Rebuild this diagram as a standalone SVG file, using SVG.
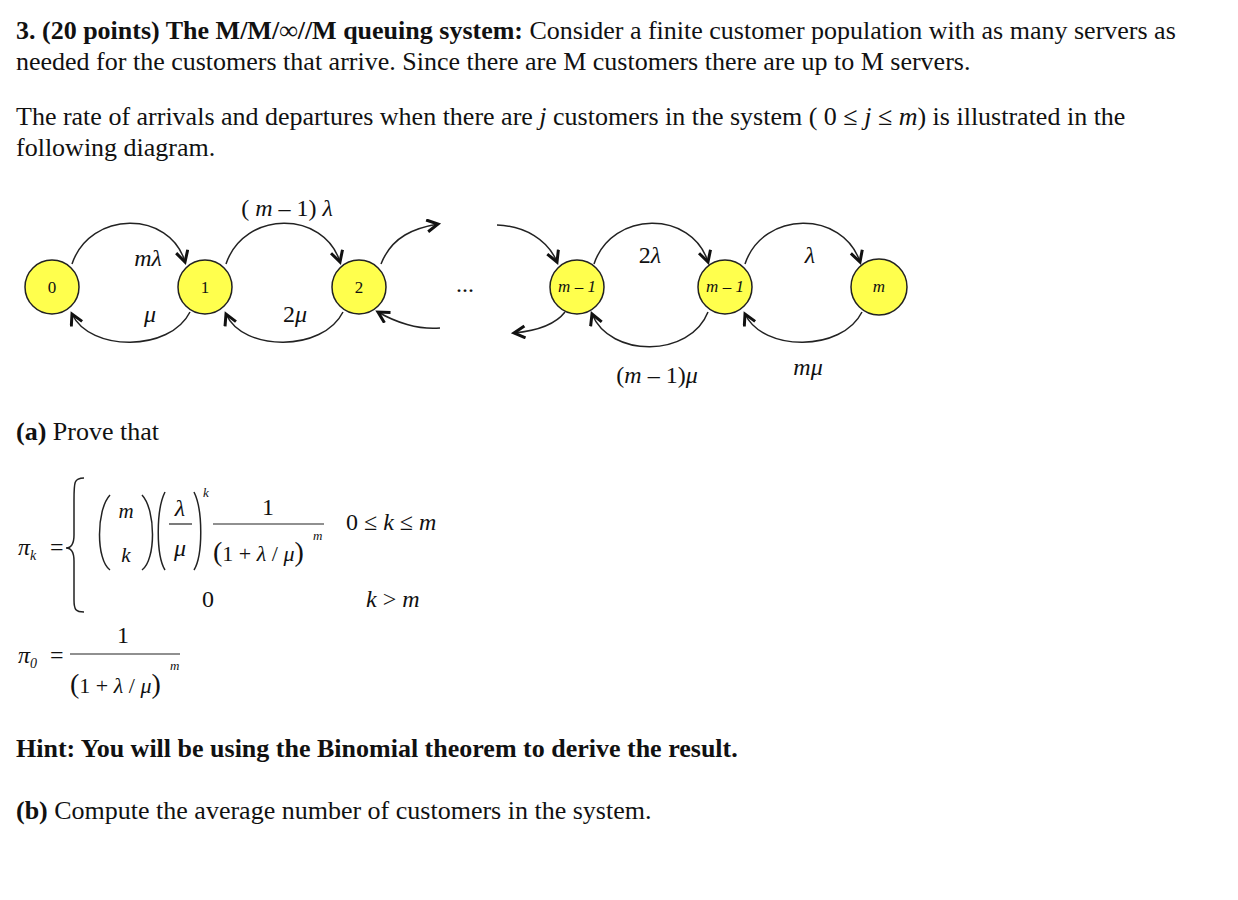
<svg xmlns="http://www.w3.org/2000/svg" width="1238" height="900" viewBox="0 0 1238 900">
<style>
.t{font-family:"Liberation Serif",serif;font-size:26px;fill:#111}
.b{font-weight:bold}
.i{font-style:italic}
.m{font-family:"Liberation Serif",serif;font-size:24px;fill:#111}
.n{fill:#ffff4d;stroke:#222;stroke-width:1.5}
.c{fill:none;stroke:#222;stroke-width:1.5}
.nl{font-family:"Liberation Serif",serif;font-size:17px;text-anchor:middle;fill:#111}
</style>
<defs>
<marker id="a" markerWidth="16" markerHeight="16" refX="12" refY="7" orient="auto" markerUnits="userSpaceOnUse">
<path d="M1,1 L12,7 L1,13" fill="none" stroke="#111" stroke-width="3"/>
</marker>
</defs>
<rect width="1238" height="900" fill="#fff"/>
<text class="t" x="16" y="39"><tspan class="b">3. (20 points) The M/M/∞//M queuing system:</tspan> Consider a finite customer population with as many servers as</text>
<text class="t" x="16" y="70">needed for the customers that arrive. Since there are M customers there are up to M servers.</text>
<text class="t" x="16" y="125">The rate of arrivals and departures when there are <tspan class="i">j</tspan> customers in the system ( 0  ≤ <tspan class="i">j</tspan> ≤  <tspan class="i">m</tspan>) is illustrated in the</text>
<text class="t" x="16" y="156">following diagram.</text>
<g id="connectors">
<path class="c" d="M72,264 C90,210 170,210 185,262" marker-end="url(#a)"/>
<path class="c" d="M190,312 C170,352 90,352 72,314" marker-end="url(#a)"/>
<path class="c" d="M226,264 C244,210 324,210 340,262" marker-end="url(#a)"/>
<path class="c" d="M343,312 C323,352 243,352 226,314" marker-end="url(#a)"/>
<path class="c" d="M381,264 C392,236 415,228 438,224" marker-end="url(#a)"/>
<path class="c" d="M440,328 C418,330 395,322 378,312" marker-end="url(#a)"/>
<path class="c" d="M497,225 C525,226 548,240 557,262" marker-end="url(#a)"/>
<path class="c" d="M565,312 C555,325 535,331 514,333" marker-end="url(#a)"/>
<path class="c" d="M594,264 C612,210 692,210 708,262" marker-end="url(#a)"/>
<path class="c" d="M708,312 C690,358 610,358 592,314" marker-end="url(#a)"/>
<path class="c" d="M745,264 C763,210 843,210 860,262" marker-end="url(#a)"/>
<path class="c" d="M862,312 C842,352 763,352 745,314" marker-end="url(#a)"/>
</g>
<g id="n0"><circle class="n" cx="52" cy="287" r="27"/><text class="nl" x="52" y="293">0</text></g>
<g id="n1"><circle class="n" cx="205" cy="287" r="27"/><text class="nl" x="205" y="293">1</text></g>
<g id="n2"><circle class="n" cx="359" cy="287" r="27"/><text class="nl" x="359" y="293">2</text></g>
<g id="nm1a"><circle class="n" cx="577" cy="287" r="27"/><text class="nl i" x="577" y="292" font-size="14">m – 1</text></g>
<g id="nm1b"><circle class="n" cx="725" cy="287" r="27"/><text class="nl i" x="725" y="292" font-size="14">m – 1</text></g>
<g id="nm"><circle class="n" cx="879" cy="287" r="28"/><text class="nl i" x="879" y="292" font-size="14">m</text></g>
<g class="m" text-anchor="middle" font-size="27">
<text x="287" y="216">( <tspan class="i">m</tspan> – 1) <tspan class="i">λ</tspan></text>
<text x="148" y="266" class="i">mλ</text>
<text x="150" y="322" class="i">μ</text>
<text x="295" y="322">2<tspan class="i">μ</tspan></text>
<text x="465" y="292">...</text>
<text x="650" y="263">2<tspan class="i">λ</tspan></text>
<text x="810" y="263" class="i">λ</text>
<text x="657" y="383">(<tspan class="i">m</tspan> – 1)<tspan class="i">μ</tspan></text>
<text x="808" y="375" class="i">mμ</text>
</g>
<text class="t" x="16" y="440"><tspan class="b">(a)</tspan> Prove that</text>
<g class="m">
<text x="18" y="555" class="i">π<tspan font-size="14" dy="5">k</tspan></text>
<text x="50" y="555">=</text>
<path class="c" d="M84,478 C74,478 74,482 74,500 L74,535 C74,545 70,548 66,548 C70,548 74,551 74,561 L74,600 C74,610 76,612 84,612"/>
<path class="c" d="M110,495 C96,510 96,560 110,570"/>
<path class="c" d="M142,495 C156,510 156,560 142,570"/>
<text x="126" y="518" text-anchor="middle" font-size="21" class="i">m</text>
<text x="126" y="562" text-anchor="middle" font-size="21" class="i">k</text>
<path class="c" d="M165,492 C156,510 156,555 165,570"/>
<path class="c" d="M194,492 C203,510 203,555 194,570"/>
<text x="180" y="516" text-anchor="middle" class="i">λ</text>
<line x1="169" y1="524" x2="192" y2="524" stroke="#222" stroke-width="1.2"/>
<text x="180" y="556" text-anchor="middle" class="i">μ</text>
<text x="203" y="497" font-size="13" class="i">k</text>
<text x="268" y="515" text-anchor="middle">1</text>
<line x1="213" y1="524" x2="324" y2="524" stroke="#222" stroke-width="1.2"/>
<text x="213" y="561" font-size="22"><tspan font-size="28">(</tspan>1 + <tspan class="i">λ</tspan> / <tspan class="i">μ</tspan><tspan font-size="28">)</tspan></text>
<text x="313" y="540" font-size="13" class="i">m</text>
<text x="346" y="530">0 ≤ <tspan class="i">k</tspan> ≤ <tspan class="i">m</tspan></text>
<text x="208" y="607" text-anchor="middle">0</text>
<text x="366" y="607"><tspan class="i">k</tspan> &gt; <tspan class="i">m</tspan></text>
<text x="18" y="663" class="i">π<tspan font-size="14" dy="5">0</tspan></text>
<text x="50" y="663">=</text>
<text x="123" y="643" text-anchor="middle">1</text>
<line x1="70" y1="654" x2="180" y2="654" stroke="#222" stroke-width="1.2"/>
<text x="70" y="693" font-size="22"><tspan font-size="28">(</tspan>1 + <tspan class="i">λ</tspan> / <tspan class="i">μ</tspan><tspan font-size="28">)</tspan></text>
<text x="170" y="670" font-size="13" class="i">m</text>
</g>
<text class="t b" x="16" y="757">Hint: You will be using the Binomial theorem to derive the result.</text>
<text class="t" x="16" y="819"><tspan class="b">(b)</tspan>  Compute the average number of customers in the system.</text>
</svg>
